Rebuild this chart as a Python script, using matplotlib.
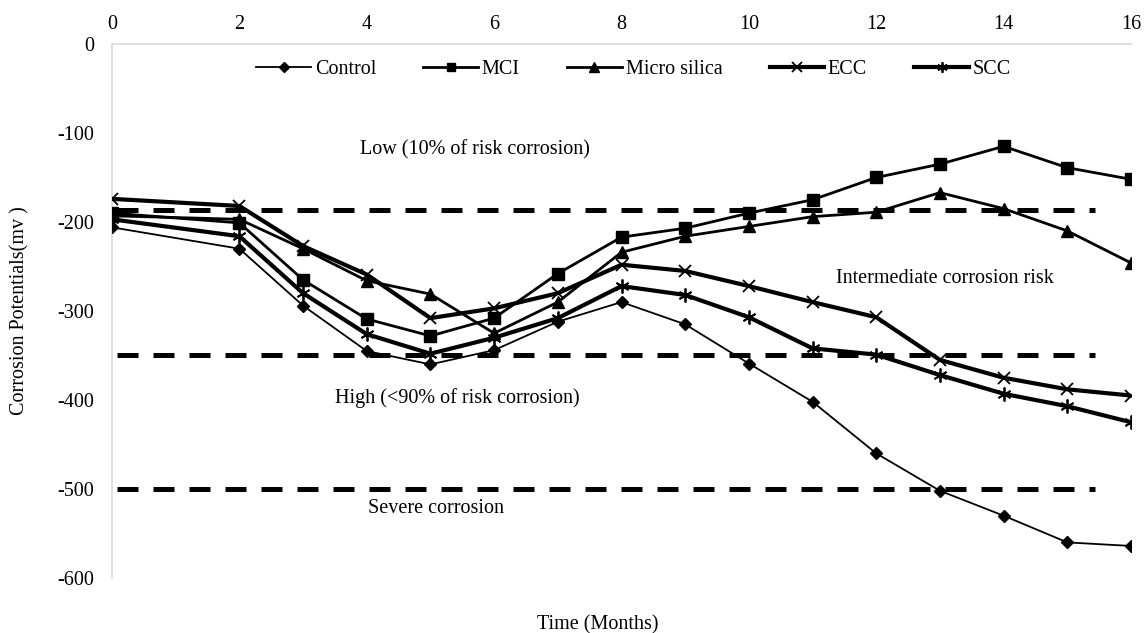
import numpy as np
import matplotlib
matplotlib.use('Agg')
import matplotlib.pyplot as plt

plt.rcParams['font.family'] = ['Liberation Serif', 'DejaVu Serif']
plt.rcParams['font.size'] = 14.5
plt.rcParams['axes.unicode_minus'] = False

#------------------------------------------------------------------------------------------------ data

months = [0, 2, 3, 4, 5, 6, 7, 8, 9, 10, 11, 12, 13, 14, 15, 16]
control = [-206, -230, -294, -345, -360, -344, -312, -290, -315, -359, -402, -460, -502, -530, -560, -564]
mci = [-190, -201, -265, -309, -328, -308, -258, -217, -207, -190, -175, -150, -135, -115, -139, -152]
micro_silica = [-193, -197, -230, -266, -281, -325, -290, -234, -216, -205, -194, -189, -167, -185, -210, -246]
ecc = [-174, -182, -227, -259, -308, -297, -280, -248, -255, -272, -290, -307, -355, -375, -388, -395]
scc = [-197, -216, -280, -326, -348, -330, -308, -272, -282, -307, -342, -349, -372, -393, -407, -425]

limits = [-187, -350, -500] # risk zone boundaries
zone_labels = ['Low (10% of risk corrosion)', 'Intermediate corrosion risk',
               'High (<90% of risk corrosion)', 'Severe corrosion']

#------------------------------------------------------------------------------------------------ plot

fig = plt.figure(figsize=(11.48, 6.33), dpi=100)
ax = fig.add_axes([112/1148, 1 - 578/633, 1019/1148, 534/633])

for lim in limits:
    ax.plot([0.08, 15.43], [lim, lim], color='k', lw=3.6, linestyle=(0, (4.2, 3)),
            solid_capstyle='butt', dash_capstyle='butt', zorder=1)

ax.plot(months, control, color='k', lw=1.3, marker='D', markersize=6.5, label='Control', zorder=3)
ax.plot(months, mci, color='k', lw=2.0, marker='s', markersize=8, label='MCI', zorder=3)
ax.plot(months, micro_silica, color='k', lw=2.0, marker='^', markersize=9, label='Micro silica', zorder=3)
ax.plot(months, ecc, color='k', lw=3.0, marker='x', markersize=9, markeredgewidth=1.3, label='ECC', zorder=3)
ax.plot(months, scc, color='k', lw=3.0, marker=(6, 2, 0), markersize=10, markeredgewidth=1.3, label='SCC', zorder=3)

# zone annotations
ax.text(5.7, -119, zone_labels[0], ha='center', va='center')
ax.text(13.08, -264, zone_labels[1], ha='center', va='center')
ax.text(5.42, -398, zone_labels[2], ha='center', va='center')
ax.text(5.09, -522, zone_labels[3], ha='center', va='center')

ax.set_xlim(0, 16)
ax.set_ylim(-600, 0)
ax.set_xticks(np.arange(0, 17, 2))
ax.set_yticks(np.arange(-600, 1, 100))
ax.xaxis.tick_top()
ax.tick_params(axis='x', length=0, pad=7)
ax.tick_params(axis='y', length=0, pad=13)

for side in ['right', 'bottom']:
    ax.spines[side].set_visible(False)
for side in ['left', 'top']:
    ax.spines[side].set_color('#d9d9d9')
    ax.spines[side].set_linewidth(1.2)

ax.set_xlabel('Time (Months)')
ax.xaxis.set_label_position('bottom')
ax.xaxis.set_label_coords(0.477, -0.069)
ax.set_ylabel('Corrosion Potentials(mv )')
ax.yaxis.set_label_coords(-0.081, 0.5)

ax.legend(loc='center', bbox_to_anchor=(0.512, 0.953), ncol=5, frameon=False,
          handlelength=2.7, handletextpad=0.2, columnspacing=2.35, markerscale=0.75)

fig.savefig('out.png', dpi=100)
